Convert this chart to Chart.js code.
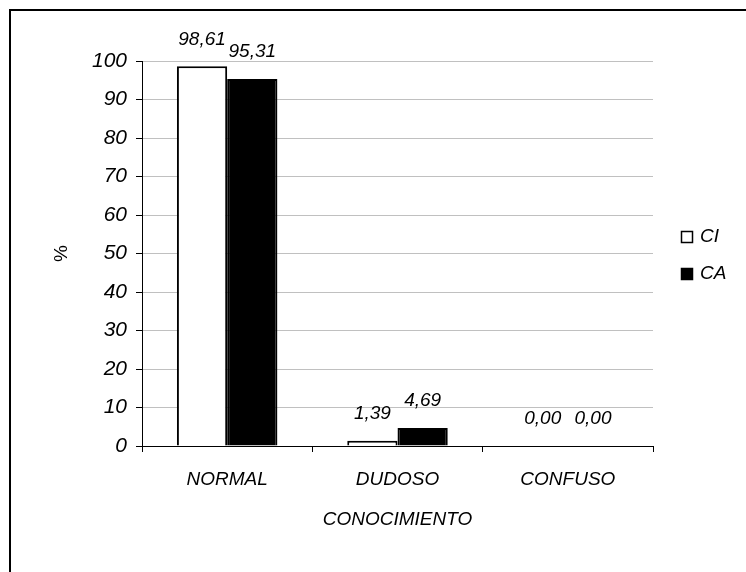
<!DOCTYPE html>
<html>
<head>
<meta charset="utf-8">
<script src="https://cdn.jsdelivr.net/npm/chart.js@4/dist/chart.umd.min.js"></script>
<style>
  html, body { margin: 0; padding: 0; background: #fff; }
  canvas { display: block; }
</style>
</head>
<body>
<canvas id="chart" width="746" height="572"></canvas>
<script>
// Categories of the "CONOCIMIENTO" variable
const categories = ['NORMAL', 'DUDOSO', 'CONFUSO'];
// Percentages per group
const seriesCI = [98.61, 1.39, 0.00];
const seriesCA = [95.31, 4.69, 0.00];
const seriesNames = ['CI', 'CA'];
const yTicks = [0, 10, 20, 30, 40, 50, 60, 70, 80, 90, 100];

const FONT = '"Liberation Sans", Arial, sans-serif';

// Page frame, value labels and the side legend
const decorations = {
  id: 'decorations',
  beforeDraw(chart) {
    const ctx = chart.ctx;
    ctx.save();
    ctx.fillStyle = '#fff';
    ctx.fillRect(0, 0, chart.width, chart.height);
    ctx.strokeStyle = '#000';
    ctx.lineWidth = 2;
    ctx.beginPath();
    ctx.moveTo(10, chart.height);
    ctx.lineTo(10, 10);
    ctx.lineTo(chart.width, 10);
    ctx.stroke();
    ctx.restore();
  },
  afterDatasetsDraw(chart) {
    const ctx = chart.ctx;
    ctx.save();
    ctx.font = 'italic 19px ' + FONT;
    ctx.fillStyle = '#000';
    ctx.textAlign = 'center';
    ctx.textBaseline = 'middle';
    chart.data.datasets.forEach((ds, i) => {
      const meta = chart.getDatasetMeta(i);
      meta.data.forEach((bar, j) => {
        const txt = ds.data[j].toFixed(2).replace('.', ',');
        ctx.fillText(txt, bar.x, bar.y - 27);
      });
    });
    // legend
    const ly = [237, 274];
    chart.data.datasets.forEach((ds, i) => {
      ctx.fillStyle = ds.backgroundColor;
      ctx.fillRect(681.5, ly[i] - 5.5, 11, 11);
      ctx.strokeStyle = '#000';
      ctx.lineWidth = 1.5;
      ctx.strokeRect(681.5, ly[i] - 5.5, 11, 11);
      ctx.fillStyle = '#000';
      ctx.textAlign = 'left';
      ctx.fillText(ds.label, 700, ly[i]);
    });
    ctx.restore();
  }
};

new Chart(document.getElementById('chart'), {
  type: 'bar',
  data: {
    labels: categories,
    datasets: [
      { label: seriesNames[0], data: seriesCI, backgroundColor: '#ffffff', borderColor: '#000', borderWidth: 2 },
      { label: seriesNames[1], data: seriesCA, backgroundColor: '#000000', borderColor: '#000', borderWidth: 2 }
    ]
  },
  options: {
    responsive: false,
    devicePixelRatio: 1,
    animation: false,
    layout: { padding: { left: 0, top: 61, right: 93, bottom: 0 } },
    plugins: {
      legend: { display: false },
      tooltip: { enabled: false }
    },
    datasets: { bar: { categoryPercentage: 0.59, barPercentage: 1.0 } },
    scales: {
      x: {
        grid: { offset: true, drawOnChartArea: false, drawTicks: true, tickLength: 6, tickColor: '#000', tickWidth: 1 },
        border: { color: '#000', width: 1 },
        ticks: { color: '#000', font: { family: FONT, size: 19, style: 'italic' }, padding: 16 },
        title: { display: true, text: 'CONOCIMIENTO', color: '#000', font: { family: FONT, size: 19, style: 'italic' }, padding: { top: 0, bottom: 41 } },
        afterFit(scale) { scale.height = 126; }
      },
      y: {
        min: 0, max: 100,
        afterBuildTicks(scale) { scale.ticks = yTicks.map(v => ({ value: v })); },
        grid: { color: '#c0c0c0', lineWidth: 1, drawTicks: true, tickLength: 6, tickColor: '#000', tickWidth: 1 },
        border: { color: '#000', width: 1 },
        ticks: { color: '#000', font: { family: FONT, size: 21, style: 'italic' }, padding: 9 },
        title: { display: true, text: '%', color: '#000', font: { family: FONT, size: 19 }, padding: { top: 50, bottom: 0 } },
        afterFit(scale) { scale.width = 142; }
      }
    }
  },
  plugins: [decorations]
});
</script>
</body>
</html>
